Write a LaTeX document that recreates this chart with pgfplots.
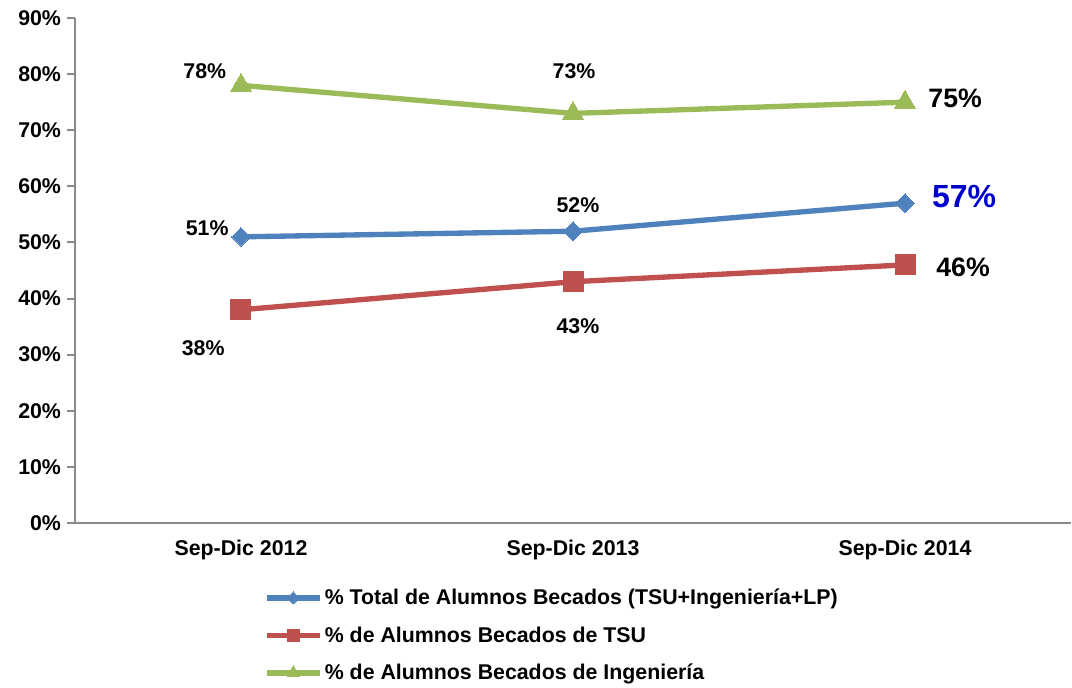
\documentclass[border=0pt]{standalone}
\usepackage{pgfplots}
\pgfplotsset{compat=1.18}
\usepackage{fontspec}
\setmainfont{Liberation Sans}
\definecolor{cblue}{HTML}{4F81BD}
\definecolor{cred}{HTML}{C0504D}
\definecolor{cgreen}{HTML}{9BBB59}
\definecolor{caxis}{HTML}{898989}
\definecolor{lblue}{HTML}{0000CC}
\begin{document}
\begin{tikzpicture}
\path[use as bounding box] (-56.25pt,-123.75pt) rectangle (747.75pt,392.25pt);
\begin{axis}[
  scale only axis,
  width=747pt, height=378.75pt,
  xmin=-0.5, xmax=2.5, ymin=0, ymax=90,
  axis lines*=left,
  axis line style={caxis, line width=1.5pt, -},
  xtick={0,1,2},
  xticklabels={Sep-Dic 2012, Sep-Dic 2013, Sep-Dic 2014},
  x tick style={draw=none},
  extra x ticks={-0.5,0.5,1.5,2.5},
  extra x tick labels={},
  extra x tick style={tick style={caxis, line width=1.5pt, draw=caxis}, major tick length=6pt, tick align=outside},
  ytick={0,10,...,90},
  yticklabel={\pgfmathprintnumber{\tick}\%},
  y tick style={caxis, line width=1.5pt},
  tick align=outside,
  major tick length=6pt,
  ticklabel style={font=\fontsize{16}{18}\selectfont\bfseries},
  /pgf/number format/assume math mode=true,
  xticklabel style={yshift=-3pt},
  yticklabel style={xshift=-1pt},
  legend style={at={(0.19,-0.125)}, anchor=north west, draw=none, fill=none,
    font=\fontsize{16}{18}\selectfont\bfseries, row sep=11pt,
    legend cell align=left, inner sep=0pt},
  legend image code/.code={\draw[#1, mark repeat=2, mark phase=2] plot coordinates {(0,0) (0.69cm,0) (1.38cm,0)};},
  clip=false,
]
\addplot[cblue, line width=4pt, mark=diamond*, mark size=7pt, mark options={solid, line width=0pt, xscale=1.33}, legend image post style={mark size=4.5pt}] coordinates {(0,51) (1,52) (2,57)};
\addlegendentry{\% Total de Alumnos Becados (TSU+Ingeniería+LP)}
\addplot[cred, line width=4pt, mark=square*, mark size=7.5pt, mark options={solid, line width=0pt}, legend image post style={mark size=4.5pt}] coordinates {(0,38) (1,43) (2,46)};
\addlegendentry{\% de Alumnos Becados de TSU}
\addplot[cgreen, line width=4pt, mark=triangle*, mark size=9pt, mark options={solid, line width=0pt}, legend image post style={mark size=5.5pt}] coordinates {(0,78) (1,73) (2,75)};
\addlegendentry{\% de Alumnos Becados de Ingeniería}

\tikzset{lab/.style={font=\fontsize{16}{18}\selectfont\bfseries, inner sep=0pt}}
\node[lab] at (axis cs:-0.109,80.5) {78\%};
\node[lab] at (axis cs:1.003,80.5) {73\%};
\node[lab, font=\fontsize{20}{22}\selectfont\bfseries] at (axis cs:2.151,75.7) {75\%};
\node[lab] at (axis cs:-0.102,52.5) {51\%};
\node[lab] at (axis cs:1.015,56.6) {52\%};
\node[lab, text=lblue, font=\fontsize{24}{26}\selectfont\bfseries] at (axis cs:2.178,58.2) {57\%};
\node[lab] at (axis cs:-0.114,31.1) {38\%};
\node[lab] at (axis cs:1.015,35.0) {43\%};
\node[lab, font=\fontsize{20}{22}\selectfont\bfseries] at (axis cs:2.175,45.6) {46\%};
\end{axis}
\end{tikzpicture}
\end{document}
